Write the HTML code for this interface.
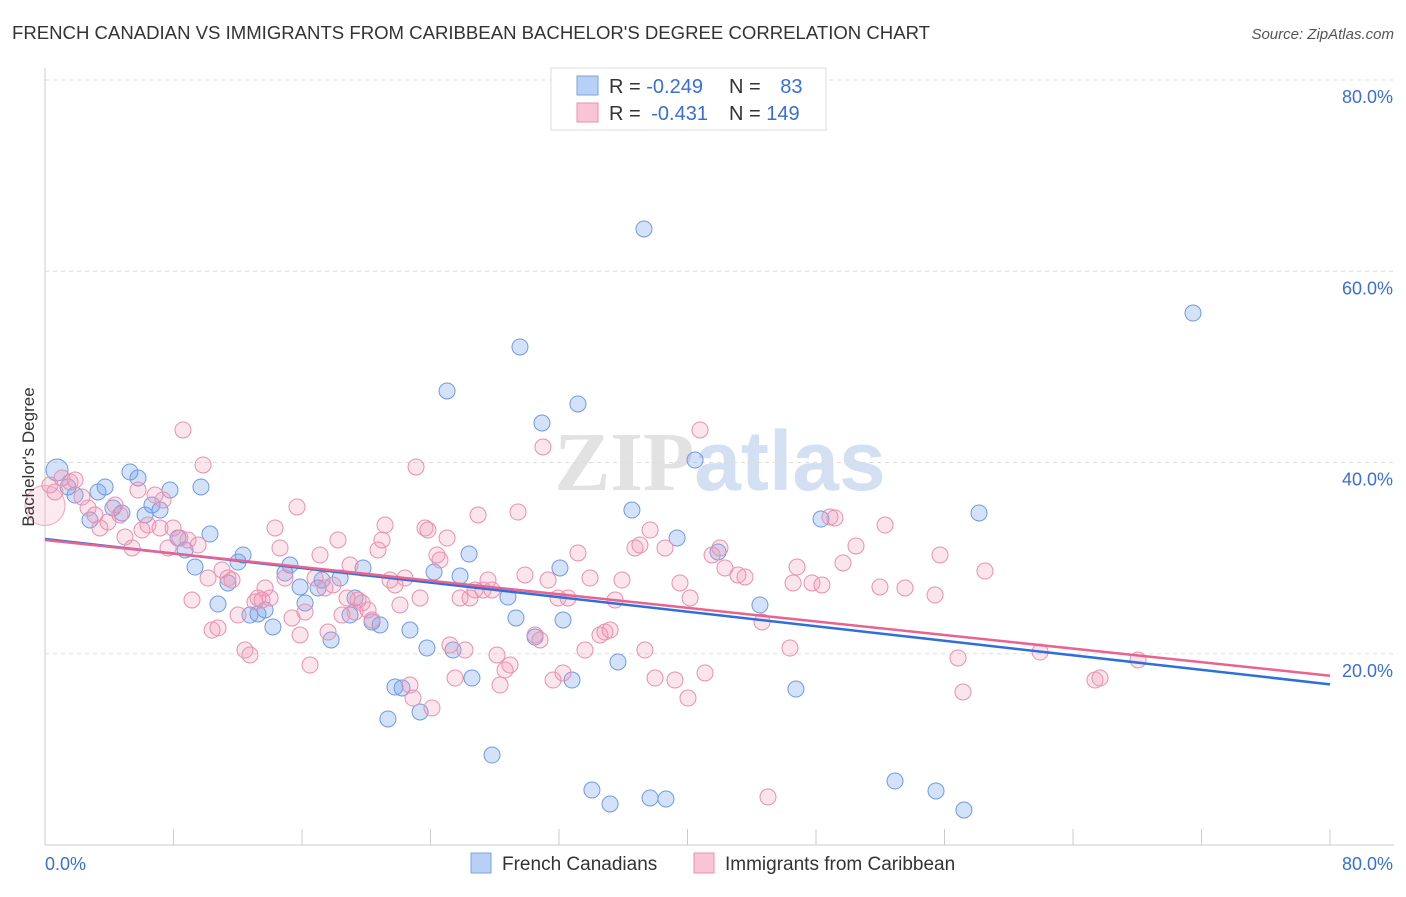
<!DOCTYPE html>
<html><head><meta charset="utf-8"><style>
body{margin:0;background:#fff;font-family:"Liberation Sans",sans-serif;}
svg text{font-family:"Liberation Sans",sans-serif;}
</style></head><body>
<svg id="chart" width="1406" height="892" xmlns="http://www.w3.org/2000/svg">
<text x="12" y="39" font-size="18" fill="#333" textLength="918" lengthAdjust="spacingAndGlyphs">FRENCH CANADIAN VS IMMIGRANTS FROM CARIBBEAN BACHELOR'S DEGREE CORRELATION CHART</text>
<text x="1394" y="39" font-size="15" fill="#555" text-anchor="end" font-style="italic">Source: ZipAtlas.com</text>
<text x="720" y="490" font-size="84" text-anchor="middle"><tspan fill="#e2e2e2" font-family="Liberation Serif" font-weight="bold">ZIP</tspan><tspan fill="#d3e0f3" font-weight="bold">atlas</tspan></text>
<g id="grid"></g><g id="marks"></g>
<text transform="translate(34,457) rotate(-90)" font-size="17" fill="#333" text-anchor="middle">Bachelor's Degree</text>
<g>
<rect x="551" y="68" width="275" height="62" fill="#fff" stroke="#ddd"/>
<rect x="577" y="76" width="21" height="19" fill="#b8d0f5" stroke="#7aa3e0"/>
<rect x="577" y="103" width="21" height="19" fill="#f9c4d5" stroke="#e890b0"/>
<text x="609" y="93" font-size="20" fill="#333">R = <tspan fill="#3a6fd1">-0.249</tspan></text>
<text x="729" y="93" font-size="20" fill="#333">N = <tspan fill="#3a6fd1" dx="14">83</tspan></text>
<text x="609" y="120" font-size="20" fill="#333">R = <tspan fill="#3a6fd1" dx="5">-0.431</tspan></text>
<text x="729" y="120" font-size="20" fill="#333">N = <tspan fill="#3a6fd1">149</tspan></text>
</g>
<g>
<rect x="471" y="853" width="20" height="20" fill="#b8d0f5" stroke="#7aa3e0"/>
<text x="502" y="870" font-size="19" fill="#333">French Canadians</text>
<rect x="694" y="853" width="20" height="20" fill="#f9c4d5" stroke="#e890b0"/>
<text x="725" y="870" font-size="19" fill="#333">Immigrants from Caribbean</text>
</g>
</svg>
<script>
const yTicks=[20,40,60,80];
const yTickLabels=["20.0%","40.0%","60.0%","80.0%"];
const xTickLabels=["0.0%","80.0%"];
const blueTrend=[32.0,16.8];
const pinkTrend=[31.9,17.7];
const bluePx=[[57,470],[68,487],[75,495],[98,492],[105,487],[90,520],[113,508],[122,513],[130,472],[138,478],[152,505],[160,510],[170,490],[145,515],[178,538],[185,550],[195,567],[201,487],[210,534],[218,604],[228,583],[238,562],[243,555],[250,615],[258,614],[265,610],[273,627],[285,573],[290,565],[300,587],[305,603],[318,588],[322,580],[331,640],[340,578],[350,615],[355,598],[363,568],[372,622],[380,625],[388,719],[395,687],[402,688],[410,630],[420,712],[427,648],[434,572],[447,391],[453,650],[460,576],[469,554],[472,678],[492,755],[508,597],[516,618],[520,347],[535,637],[542,423],[560,568],[563,620],[572,680],[578,404],[592,790],[610,804],[618,662],[632,510],[644,229],[650,798],[666,799],[677,538],[695,460],[718,552],[760,605],[796,689],[821,519],[895,781],[936,791],[964,810],[979,513],[1193,313]];
const pinkPx=[[50,485],[55,492],[62,478],[70,482],[75,480],[82,497],[88,508],[95,515],[100,528],[108,522],[115,505],[120,515],[125,537],[132,548],[138,490],[142,530],[148,525],[155,495],[160,528],[163,500],[168,548],[173,528],[180,538],[183,430],[188,540],[192,600],[198,545],[203,465],[208,578],[212,630],[218,628],[222,570],[228,578],[232,580],[238,615],[245,650],[250,655],[255,602],[258,598],[262,600],[265,588],[270,598],[275,528],[280,548],[285,578],[292,618],[297,507],[300,635],[305,612],[310,665],[315,578],[320,555],[325,588],[328,632],[333,585],[338,540],[342,615],[347,598],[350,565],[355,612],[358,600],[362,603],[368,610],[372,620],[378,550],[382,540],[385,525],[390,580],[395,585],[400,605],[405,578],[410,685],[413,698],[416,467],[420,598],[425,528],[428,530],[432,708],[437,555],[440,560],[447,538],[450,645],[455,678],[460,598],[465,650],[470,598],[475,590],[478,515],[483,590],[488,580],[492,590],[497,655],[500,685],[505,670],[510,665],[518,512],[525,575],[535,635],[540,640],[543,447],[548,580],[553,680],[558,598],[563,673],[568,598],[578,553],[585,650],[590,578],[600,635],[605,632],[610,630],[615,600],[622,580],[635,548],[640,545],[645,650],[650,530],[655,678],[665,548],[675,680],[680,583],[688,698],[690,598],[700,430],[705,673],[712,555],[720,548],[725,568],[738,575],[745,577],[762,622],[768,797],[790,648],[793,583],[797,567],[812,583],[822,585],[830,517],[835,518],[843,563],[856,546],[880,587],[885,525],[905,588],[935,595],[940,555],[958,658],[963,692],[985,571],[1040,652],[1095,680],[1100,678],[1138,660]];
const blueX=bluePx.map(p=>+((p[0]-45)/16.0625).toFixed(2));
const blueY=bluePx.map(p=>+((845-p[1])/9.5625).toFixed(2));
const pinkX=pinkPx.map(p=>+((p[0]-45)/16.0625).toFixed(2));
const pinkY=pinkPx.map(p=>+((845-p[1])/9.5625).toFixed(2));
const X0=45,X1=1330,Y0=845,Y1=80;
function sx(v){return X0+v/80*(X1-X0);}
function sy(v){return Y0-v/80*(Y0-Y1);}
const NS="http://www.w3.org/2000/svg";
function mk(tag,attrs,parent){const e=document.createElementNS(NS,tag);for(const k in attrs)e.setAttribute(k,attrs[k]);parent.appendChild(e);return e;}
const grid=document.getElementById('grid'),marks=document.getElementById('marks');
yTicks.forEach((t,i)=>{
 const l=mk('line',{x1:X0,x2:1394,y1:sy(t),y2:sy(t),stroke:'#ddd','stroke-dasharray':'4,4'},grid);
 
 
 const tx=mk('text',{x:1393,y:sy(t)+23,'font-size':18,fill:'#3a6fd1','text-anchor':'end'},grid);
 tx.textContent=yTickLabels[i];
 
 
});
const ax=mk('line',{x1:X0,x2:X0,y1:68,y2:Y0,stroke:'#ccc'},grid);


const bx=mk('line',{x1:X0,x2:1394,y1:Y0,y2:Y0,stroke:'#ccc'},grid);


for(let i=0;i<=10;i++){
 const t=mk('line',{x1:sx(i*8),x2:sx(i*8),y1:Y0,y2:Y0-16,stroke:'#ccc'},grid);
 
 
}
[[0,'start',45],[80,'end',1393]].forEach((d,i)=>{
 const tx=mk('text',{x:d[2],y:870,'font-size':18,fill:'#3a6fd1','text-anchor':d[1]},grid);
 tx.textContent=xTickLabels[i];
 
 
});
const bb=mk('circle',{cx:sx(0),cy:sy(35.5),r:20,fill:'rgba(240,150,180,0.2)',stroke:'#eea6bf'},marks);


blueX.forEach((x,i)=>{
 const c=mk('circle',{cx:sx(x),cy:sy(blueY[i]),r:i==0?11:8,fill:'rgba(110,160,235,0.3)',stroke:'#6f9be0','stroke-width':1},marks);
 
 
});
pinkX.forEach((x,i)=>{
 const c=mk('circle',{cx:sx(x),cy:sy(pinkY[i]),r:8,fill:'rgba(240,150,180,0.25)',stroke:'#e890b0','stroke-width':1},marks);
 
 
});
const bl=mk('line',{x1:sx(0),y1:sy(blueTrend[0]),x2:sx(80),y2:sy(blueTrend[1]),stroke:'#2f6fd8','stroke-width':2.5},marks);


const pl=mk('line',{x1:sx(0),y1:sy(pinkTrend[0]),x2:sx(80),y2:sy(pinkTrend[1]),stroke:'#e8638e','stroke-width':2.5},marks);


</script>
</body></html>
